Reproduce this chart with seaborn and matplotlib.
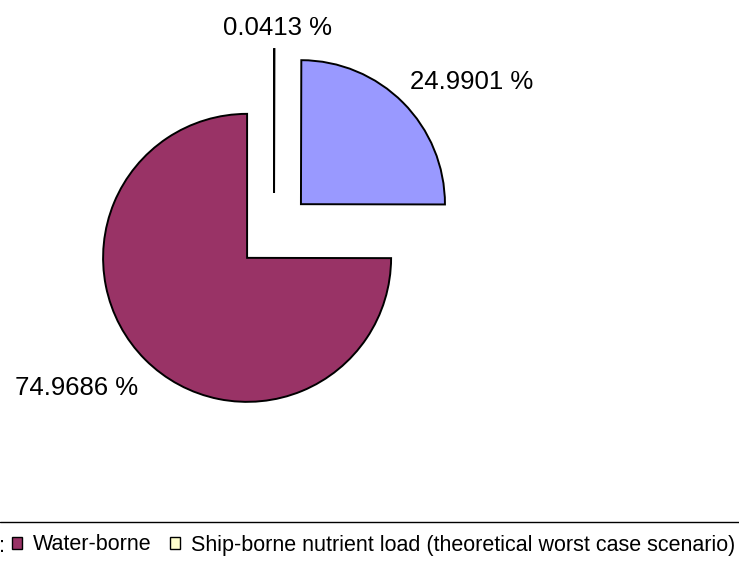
import matplotlib
matplotlib.use("Agg")
import matplotlib.pyplot as plt
from matplotlib.lines import Line2D
from matplotlib.patches import Patch
import seaborn as sns

# Share of the nutrient load by source (percent)
sources = ["Ship-borne nutrient load (theoretical worst case scenario)",
           "Air-borne", "Water-borne"]
shares = [0.0413, 24.9901, 74.9686]
slice_colors = ["#FFFFCC", "#9999FF", "#993366"]
legend_sources = ["Water-borne",
                  "Ship-borne nutrient load (theoretical worst case scenario)"]

sns.set_theme(style="white")
plt.rcParams["font.family"] = ["Liberation Sans", "DejaVu Sans"]
plt.rcParams["text.color"] = "black"

palette = dict(zip(sources, sns.color_palette(slice_colors)))

W, H = 739, 563
fig = plt.figure(figsize=(W / 100, H / 100), dpi=100)
ax = fig.add_axes([0, 0, 1, 1])

wedges, _ = ax.pie(
    shares,
    colors=[palette[s] for s in sources],
    startangle=90,
    counterclock=False,
    explode=[0.264] * len(shares),
    radius=1.0,
    wedgeprops=dict(edgecolor="black", linewidth=1.4),
)

# axis frame in units of the pie radius (144 px), centre at (274, 231) px
R_PX, CX, CY = 144.0, 274.0, 231.0
ax.set_xlim(-CX / R_PX, (W - CX) / R_PX)
ax.set_ylim((CY - H) / R_PX, CY / R_PX)
ax.set_aspect("equal")
ax.axis("off")

label_fmt = "{:.4f} %"
label_fs = 18.5
# value labels outside the slices
ax.text(0.021, 1.361, label_fmt.format(shares[0]), ha="center", va="baseline",
        fontsize=label_fs, color="black")
ax.text(0.945, 0.986, label_fmt.format(shares[1]), ha="left", va="baseline",
        fontsize=label_fs, color="black")
ax.text(-0.945, -1.139, label_fmt.format(shares[2]), ha="right", va="baseline",
        fontsize=label_fs, color="black")

# legend strip along the bottom
fig.add_artist(Line2D([0, 1], [1 - 522 / H, 1 - 522 / H],
                      transform=fig.transFigure, color="black", linewidth=1.0))
fig.text(5 / W, 1 - 552 / H, ":", ha="right", va="baseline", fontsize=15.5,
         color="black")
handles = [Patch(facecolor=palette[s], edgecolor="black", linewidth=1.0)
           for s in ["Water-borne", sources[0]]]
leg = fig.legend(handles, legend_sources, loc="center left",
                 bbox_to_anchor=(12 / W, 1 - 545 / H), ncol=2, frameon=False,
                 fontsize=15.5, handlelength=0.47, handleheight=0.47,
                 handletextpad=0.5, columnspacing=0.85, borderpad=0,
                 borderaxespad=0)
for t in leg.get_texts():
    t.set_color("black")

fig.savefig("out.png", dpi=100)
